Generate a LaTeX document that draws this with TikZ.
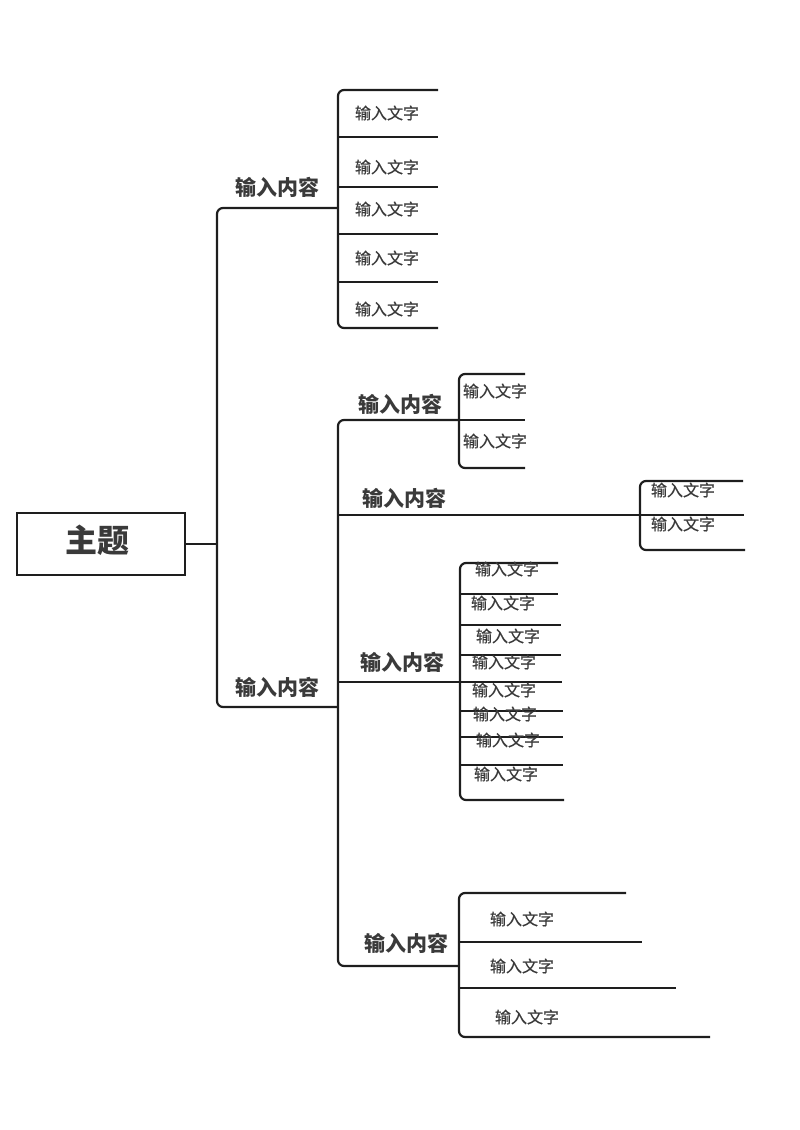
\documentclass[tikz,border=0pt]{standalone}
\usepackage{fontspec}
\newfontfamily\cjk{Noto Sans CJK SC}
\newfontfamily\cjkleaf[FakeBold=0.6]{Noto Sans CJK SC}
\usetikzlibrary{positioning}

\definecolor{ink}{HTML}{1E1E1E}
\definecolor{txt}{HTML}{3A3A3A}

\tikzset{
  line/.style={draw=ink, line width=2.2pt},
  bracket/.style={line, rounded corners=6pt},
  topic/.style={draw=ink, line width=2.6pt, minimum width=168pt, minimum height=62pt,
    font=\cjk\bfseries\fontsize{32}{32}\selectfont, text=txt},
  branch/.style={font=\cjk\bfseries\fontsize{21}{21}\selectfont, text=txt, inner sep=0pt},
  leaf/.style={font=\cjkleaf\fontsize{16}{16}\selectfont, text=txt, inner sep=0pt},
}

\begin{document}
\begin{tikzpicture}[x=1pt,y=-1pt]
  \useasboundingbox (0,0) rectangle (800,1130);

  % main topic and first trunk
  \node[topic] (main) at (101,544) {};
  \node[font=\cjk\bfseries\fontsize{32}{32}\selectfont, text=txt] (title) at (97,540) {主题};
  \coordinate (j0) at (217,544);
  \coordinate (b1) at (338,208);
  \coordinate (b2) at (338,707);
  \draw[line] (main.east) -- (j0);
  \draw[bracket] (b1) -| (j0) |- (b2);
  \node[branch] (n1) at (277,187) {输入内容};
  \node[branch] (n2) at (277,687) {输入内容};

  % upper group
  \foreach \y [count=\i] in {90,137,187,234,282,328}
    \coordinate (a\i) at (438,\y);
  \draw[bracket] (a1) -| (b1) |- (a6);
  \foreach \i in {2,...,5}
    \draw[line] (b1 |- a\i) -- (a\i);
  \foreach \y [count=\i] in {113,167,209,258,309}
    \node[leaf] (ta\i) at (387,\y) {输入文字};

  % second trunk
  \coordinate (jA) at (459,420);
  \coordinate (jB) at (640,515);
  \coordinate (jC) at (460,682);
  \coordinate (jD) at (459,966);
  \draw[bracket] (jA) -| (b2) |- (jD);
  \draw[line] (b2 |- jB) -- (jB);
  \draw[line] (b2 |- jC) -- (jC);
  \node[branch] (nA) at (400,404) {输入内容};
  \node[branch] (nB) at (404,498) {输入内容};
  \node[branch] (nC) at (402,662) {输入内容};
  \node[branch] (nD) at (406,943) {输入内容};

  % group A
  \coordinate (pA1) at (525,374);
  \coordinate (pA2) at (525,420);
  \coordinate (pA3) at (525,468);
  \draw[bracket] (pA1) -| (jA) |- (pA3);
  \draw[line] (jA) -- (pA2);
  \node[leaf] (tA1) at (495,391) {输入文字};
  \node[leaf] (tA2) at (495,441) {输入文字};

  % group B
  \coordinate (pB1) at (743,481);
  \coordinate (pB2) at (744,515);
  \coordinate (pB3) at (745,550);
  \draw[bracket] (pB1) -| (jB) |- (pB3);
  \draw[line] (jB) -- (pB2);
  \node[leaf] (tB1) at (683,490) {输入文字};
  \node[leaf] (tB2) at (683,524) {输入文字};

  % group C
  \foreach \x/\y [count=\i] in {558/563,558/594,561/625,561/655,562/682,563/711,563/737,563/765,564/800}
    \coordinate (pC\i) at (\x,\y);
  \draw[bracket] (pC1) -| (jC) |- (pC9);
  \foreach \i in {2,...,8}
    \draw[line] (jC |- pC\i) -- (pC\i);
  \foreach \x/\y [count=\i] in {507/569,503/603,508/636,504/662,504/690,505/714,508/740,506/774}
    \node[leaf] (tC\i) at (\x,\y) {输入文字};

  % group D
  \coordinate (pD1) at (626,893);
  \coordinate (pD2) at (642,942);
  \coordinate (pD3) at (676,988);
  \coordinate (pD4) at (710,1037);
  \draw[bracket] (pD1) -| (jD) |- (pD4);
  \draw[line] (jD |- pD2) -- (pD2);
  \draw[line] (jD |- pD3) -- (pD3);
  \node[leaf] (tD1) at (522,919) {输入文字};
  \node[leaf] (tD2) at (522,966) {输入文字};
  \node[leaf] (tD3) at (527,1017) {输入文字};
\end{tikzpicture}
\end{document}
